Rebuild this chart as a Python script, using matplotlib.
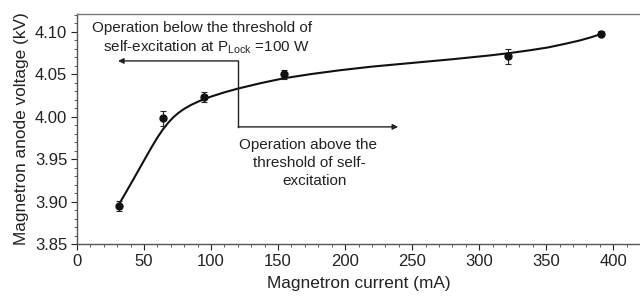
import matplotlib
matplotlib.use("Agg")
import matplotlib.pyplot as plt
from matplotlib.ticker import MultipleLocator

plt.rcParams['font.family'] = ['Liberation Sans', 'DejaVu Sans']
plt.rcParams['mathtext.fontset'] = 'custom'
plt.rcParams['mathtext.rm'] = 'Liberation Sans'

# measured points
current = [31, 64, 94.5, 154.5, 321.5, 391]
voltage = [3.8947, 3.998, 4.0233, 4.050, 4.0712, 4.098]
err = [0.006, 0.009, 0.006, 0.0055, 0.009, 0.003]

# fitted curve
fit_x = [31, 36, 42, 47, 52, 56, 60, 64, 68, 72, 76, 80, 85, 90, 95, 100, 110,
         120, 137, 154, 175, 196, 220, 251, 280, 308, 322, 338, 351, 364, 375,
         384, 391]
fit_y = [3.896, 3.9095, 3.926, 3.940, 3.954, 3.965, 3.9755, 3.9848, 3.9928,
         3.9995, 4.0049, 4.0093, 4.0138, 4.0175, 4.0208, 4.0237, 4.0287, 4.0331,
         4.0395, 4.0452, 4.0503, 4.0547, 4.059, 4.0635, 4.0677, 4.0722, 4.0748,
         4.0783, 4.0815, 4.0858, 4.0898, 4.0938, 4.0975]

xticks = [0, 50, 100, 150, 200, 250, 300, 350, 400]
yticks = [3.85, 3.90, 3.95, 4.00, 4.05, 4.10]

fig = plt.figure(figsize=(6.4, 2.99), dpi=100)
ax = fig.add_axes([77/640, 1-244/299, 1-77/640, (244-14)/299])

ax.plot(fit_x, fit_y, color='#111111', lw=1.5, zorder=2)
ax.errorbar(current, voltage, yerr=err, fmt='o', color='#111111', ms=5,
            ecolor='#222222', elinewidth=0.8, capsize=2.5, capthick=0.8, zorder=3)

ax.set_xlim(0, 420)
ax.set_ylim(3.85, 4.121)
ax.set_xticks(xticks)
ax.set_yticks(yticks)
ax.set_yticklabels([f"{v:.2f}" for v in yticks])
ax.xaxis.set_minor_locator(MultipleLocator(10))
ax.yaxis.set_minor_locator(MultipleLocator(0.01))
ax.tick_params(which='major', direction='out', length=4, width=0.8,
               labelsize=12, colors='#222222', pad=3)
ax.tick_params(which='minor', direction='out', length=2, width=0.6, colors='#444444')

for s in ['left', 'bottom']:
    ax.spines[s].set_color('#555555')
    ax.spines[s].set_linewidth(1.0)
ax.spines['top'].set_color('#777777')
ax.spines['top'].set_linewidth(1.0)
ax.spines['right'].set_visible(False)

ax.set_xlabel('Magnetron current (mA)', fontsize=12.4, color='#222222', labelpad=5)
ax.set_ylabel('Magnetron anode voltage (kV)', fontsize=12.4, color='#222222', labelpad=4)

# annotations
fs = 11
ax.text(93.3, 4.1044, 'Operation below the threshold of', ha='center', va='center',
        fontsize=fs, color='#222222')
ax.text(96.3, 4.0818, r'self-excitation at P$_{\rm Lock}$ =100 W', ha='center', va='center',
        fontsize=fs, color='#222222')

ax.annotate('', xy=(30.6, 4.0657), xytext=(120.3, 4.0657),
            arrowprops=dict(arrowstyle='-|>', lw=1.0, color='#222222',
                            mutation_scale=8, shrinkA=0, shrinkB=0))
ax.plot([120.3, 120.3], [4.0657, 3.988], color='#222222', lw=1.0)
ax.annotate('', xy=(239.6, 3.988), xytext=(120.3, 3.988),
            arrowprops=dict(arrowstyle='-|>', lw=1.0, color='#222222',
                            mutation_scale=8, shrinkA=0, shrinkB=0))

for txt, xx, yy in [('Operation above the', 172.4, 3.9665),
                    ('threshold of self-', 173.6, 3.9453),
                    ('excitation', 177.0, 3.924)]:
    ax.text(xx, yy, txt, ha='center', va='center', fontsize=fs, color='#222222')

fig.savefig('out.png', dpi=100)
